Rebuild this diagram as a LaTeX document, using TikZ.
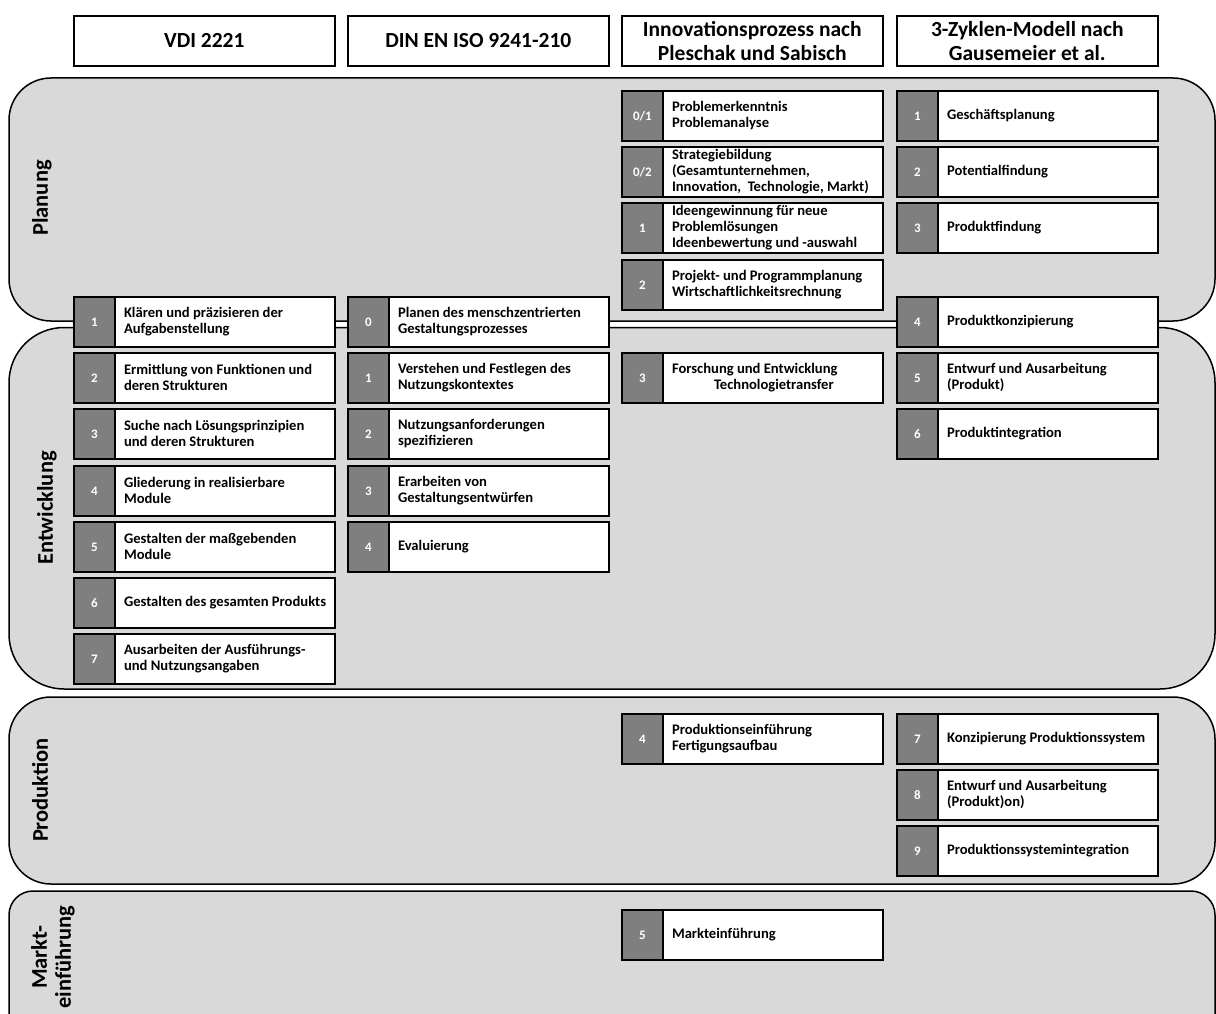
\documentclass[tikz,border=0pt]{standalone}
\usepackage{fontspec}
\setmainfont{Carlito}
\definecolor{lanegray}{HTML}{D9D9D9}
\definecolor{numgray}{HTML}{7F7F7F}
\tikzset{
  lane/.style={draw=black, line width=1.5pt, fill=lanegray},
  lanelabel/.style={rotate=90, font=\bfseries\fontsize{22.5}{24}\selectfont, align=center, inner sep=0pt},
  headbox/.style={draw=black, line width=1.6pt, fill=white, minimum width=261pt, minimum height=50pt,
    inner sep=0pt, align=center, font=\bfseries\fontsize{21.5}{24}\selectfont},
  outerbox/.style={draw=black, line width=1.8pt, fill=white, minimum width=261pt, minimum height=50pt, inner sep=0pt},
  numcell/.style={draw=black, line width=1.8pt, fill=numgray, minimum width=41pt, minimum height=50pt, inner sep=0pt,
    text=white, font=\bfseries\fontsize{13}{14}\selectfont},
  boxtext/.style={inner sep=0pt, align=left, font=\bfseries\fontsize{14.6}{16}\selectfont},
}
% one phase box: name, left, top, number, text
\newcommand{\phasebox}[5]{%
  \node[outerbox, anchor=north west] (#1) at (#2,#3) {};
  \node[numcell, anchor=north west] (#1n) at (#2,#3) {#4};
  \node[boxtext, anchor=west] (#1t) at ([xshift=8pt]#1n.east) {#5};
}
\begin{document}
\begin{tikzpicture}[x=1pt, y=-1pt]
\useasboundingbox (0,0) rectangle (1216,1014);
\clip (0,0) rectangle (1216,1014);

% column headers
\node[headbox, anchor=north west] (hvdi) at (73,15) {VDI 2221};
\node[headbox, anchor=north west] (hdin) at (347,15) {DIN EN ISO 9241-210};
\node[headbox, anchor=north west] (hinn) at (621,15) {Innovationsprozess nach\\Pleschak und Sabisch};
\node[headbox, anchor=north west] (hzyk) at (896,15) {3-Zyklen-Modell nach\\Gausemeier et al.};

% lanes
\draw[lane, rounded corners=42pt] (9,78) rectangle (1215,321);
\draw[lane, rounded corners=55pt] (9,327.5) rectangle (1215,689);
\draw[lane, rounded corners=42pt] (9,697) rectangle (1215,884);
\draw[lane, rounded corners=24pt] (9,891) rectangle (1215,1040);

\node[lanelabel] (lplan) at (42,198) {Planung};
\node[lanelabel] (lentw) at (47,508) {Entwicklung};
\node[lanelabel] (lprod) at (40,790) {Produktion};
\node[lanelabel] (lmark) at (53,957) {Markt-\\einführung};

% VDI 2221
\phasebox{v1}{73}{296}{1}{Klären und präzisieren der\\Aufgabenstellung}
\phasebox{v2}{73}{352}{2}{Ermittlung von Funktionen und\\deren Strukturen}
\phasebox{v3}{73}{408}{3}{Suche nach Lösungsprinzipien\\und deren Strukturen}
\phasebox{v4}{73}{465}{4}{Gliederung in realisierbare\\Module}
\phasebox{v5}{73}{521}{5}{Gestalten der maßgebenden\\Module}
\phasebox{v6}{73}{577}{6}{Gestalten des gesamten Produkts}
\phasebox{v7}{73}{633}{7}{Ausarbeiten der Ausführungs-\\und Nutzungsangaben}

% DIN EN ISO 9241-210
\phasebox{d0}{347}{296}{0}{Planen des menschzentrierten\\Gestaltungsprozesses}
\phasebox{d1}{347}{352}{1}{Verstehen und Festlegen des\\Nutzungskontextes}
\phasebox{d2}{347}{408}{2}{Nutzungsanforderungen\\spezifizieren}
\phasebox{d3}{347}{465}{3}{Erarbeiten von\\Gestaltungsentwürfen}
\phasebox{d4}{347}{521}{4}{Evaluierung}

% Innovationsprozess nach Pleschak und Sabisch
\phasebox{i01}{621}{90}{0/1}{Problemerkenntnis\\Problemanalyse}
\phasebox{i02}{621}{146}{0/2}{Strategiebildung\\(Gesamtunternehmen,\\Innovation,\ \ Technologie, Markt)}
\phasebox{i1}{621}{202}{1}{Ideengewinnung für neue\\Problemlösungen\\Ideenbewertung und -auswahl}
\phasebox{i2}{621}{259}{2}{Projekt- und Programmplanung\\Wirtschaftlichkeitsrechnung}
\phasebox{i3}{621}{352}{3}{Forschung und Entwicklung\\\hspace*{42pt}Technologietransfer}
\phasebox{i4}{621}{713}{4}{Produktionseinführung\\Fertigungsaufbau}
\phasebox{i5}{621}{909}{5}{Markteinführung}

% 3-Zyklen-Modell nach Gausemeier et al.
\phasebox{z1}{896}{90}{1}{Geschäftsplanung}
\phasebox{z2}{896}{146}{2}{Potentialfindung}
\phasebox{z3}{896}{202}{3}{Produktfindung}
\phasebox{z4}{896}{296}{4}{Produktkonzipierung}
\phasebox{z5}{896}{352}{5}{Entwurf und Ausarbeitung\\(Produkt)}
\phasebox{z6}{896}{408}{6}{Produktintegration}
\phasebox{z7}{896}{713}{7}{Konzipierung Produktionssystem}
\phasebox{z8}{896}{769}{8}{Entwurf und Ausarbeitung\\(Produkt)on)}
\phasebox{z9}{896}{825}{9}{Produktionssystemintegration}
\end{tikzpicture}
\end{document}
